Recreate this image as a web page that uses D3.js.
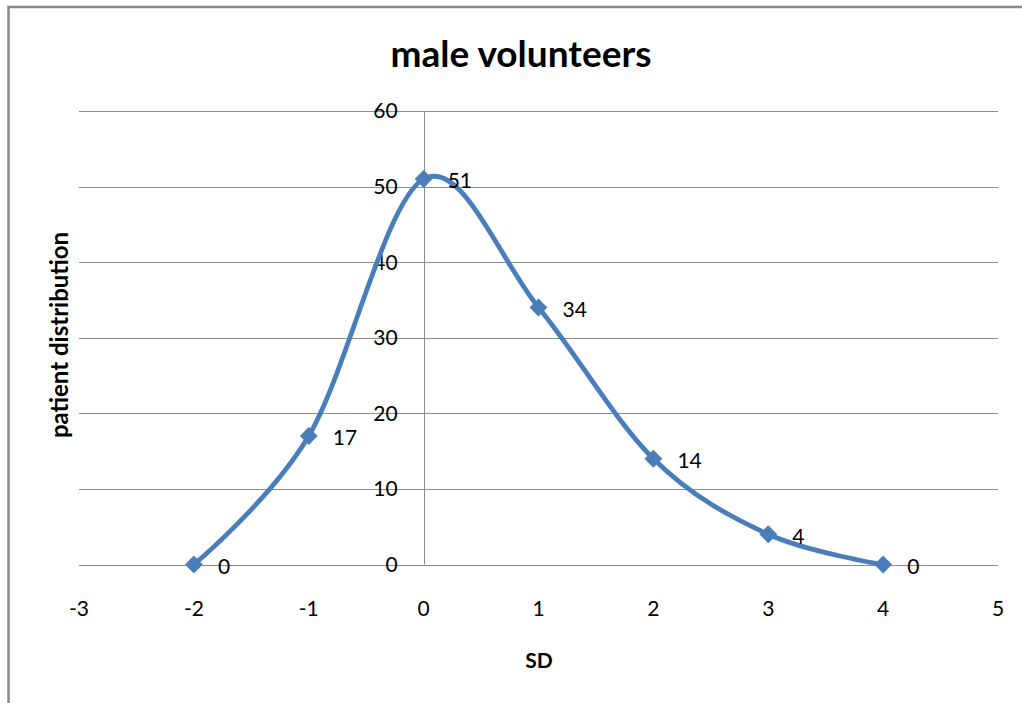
<!DOCTYPE html>
<html>
<head>
<meta charset="utf-8">
<script src="https://cdn.jsdelivr.net/npm/d3@7"></script>
<style>
  html, body { margin: 0; padding: 0; background: #fff; }
  svg { display: block; }
  text { font-family: Lato, "Open Sans", "DejaVu Sans", sans-serif; fill: #000; }
</style>
</head>
<body>
<svg id="chart" width="1022" height="703"></svg>
<script>
// Patient distribution of male volunteers by standard deviation
const sdValues = [-2, -1, 0, 1, 2, 3, 4];
const patientCounts = [0, 17, 51, 34, 14, 4, 0];
const xTicks = [-3, -2, -1, 0, 1, 2, 3, 4, 5];
const yTicks = [0, 10, 20, 30, 40, 50, 60];

const chartTitle = "male volunteers";
const xTitle = "SD";
const yTitle = "patient distribution";

const W = 1022, H = 703;
const svg = d3.select("#chart");

// chart frame (only top and left edges fall inside the view)
svg.append("rect")
  .attr("x", 8.5).attr("y", 7).attr("width", W + 20).attr("height", H + 20)
  .attr("fill", "none").attr("stroke", "#8a8a8a").attr("stroke-width", 2.5);

const x = d3.scaleLinear().domain([-3, 5]).range([79, 998]);
const y = d3.scaleLinear().domain([0, 60]).range([564.5, 111]);

// horizontal gridlines
svg.append("g").selectAll("line").data(yTicks).join("line")
  .attr("x1", x(-3)).attr("x2", x(5))
  .attr("y1", d => Math.round(y(d)) + 0.5).attr("y2", d => Math.round(y(d)) + 0.5)
  .attr("stroke", "#8c8c8c").attr("stroke-width", 1);

// vertical axis line at SD = 0
const x0 = Math.round(x(0)) + 0.5;
svg.append("line")
  .attr("x1", x0).attr("x2", x0)
  .attr("y1", y(60)).attr("y2", y(0))
  .attr("stroke", "#8c8c8c").attr("stroke-width", 1);

// y tick labels sit left of the axis
svg.append("g").selectAll("text").data(yTicks).join("text")
  .attr("x", x(0) - 26).attr("y", d => y(d))
  .attr("dy", "0.35em").attr("text-anchor", "end")
  .attr("font-size", 21)
  .text(d => d);

// x tick labels
svg.append("g").selectAll("text").data(xTicks).join("text")
  .attr("x", d => x(d)).attr("y", 609)
  .attr("dy", "0.35em").attr("text-anchor", "middle")
  .attr("font-size", 21)
  .text(d => d);

// titles
svg.append("text")
  .attr("x", 521).attr("y", 67)
  .attr("text-anchor", "middle")
  .attr("font-size", 37).attr("font-weight", "bold")
  .text(chartTitle);

svg.append("text")
  .attr("x", 539).attr("y", 668)
  .attr("text-anchor", "middle")
  .attr("font-size", 21).attr("font-weight", "bold")
  .text(xTitle);

svg.append("text")
  .attr("transform", "translate(68,335) rotate(-90)")
  .attr("text-anchor", "middle")
  .attr("font-size", 24).attr("font-weight", "bold")
  .text(yTitle);

// smoothed series line
const pts = sdValues.map((v, i) => [v, patientCounts[i]]);
const line = d3.line()
  .x(d => x(d[0])).y(d => y(d[1]))
  .curve(d3.curveCatmullRom.alpha(0));

svg.append("path")
  .attr("d", line(pts))
  .attr("fill", "none")
  .attr("stroke", "#4a7ebb")
  .attr("stroke-width", 4.8)
  .attr("stroke-linejoin", "round")
  .attr("stroke-linecap", "round");

// diamond markers
const diamond = d3.symbol().type(d3.symbolSquare).size(160);
svg.append("g").selectAll("path").data(pts).join("path")
  .attr("d", diamond)
  .attr("transform", d => `translate(${x(d[0])},${y(d[1])}) rotate(45)`)
  .attr("fill", "#4a7ebb");

// data labels
svg.append("g").selectAll("text").data(pts).join("text")
  .attr("x", d => x(d[0]) + 24).attr("y", d => y(d[1]) + 2)
  .attr("dy", "0.35em")
  .attr("font-size", 21)
  .text(d => d[1]);
</script>
</body>
</html>
